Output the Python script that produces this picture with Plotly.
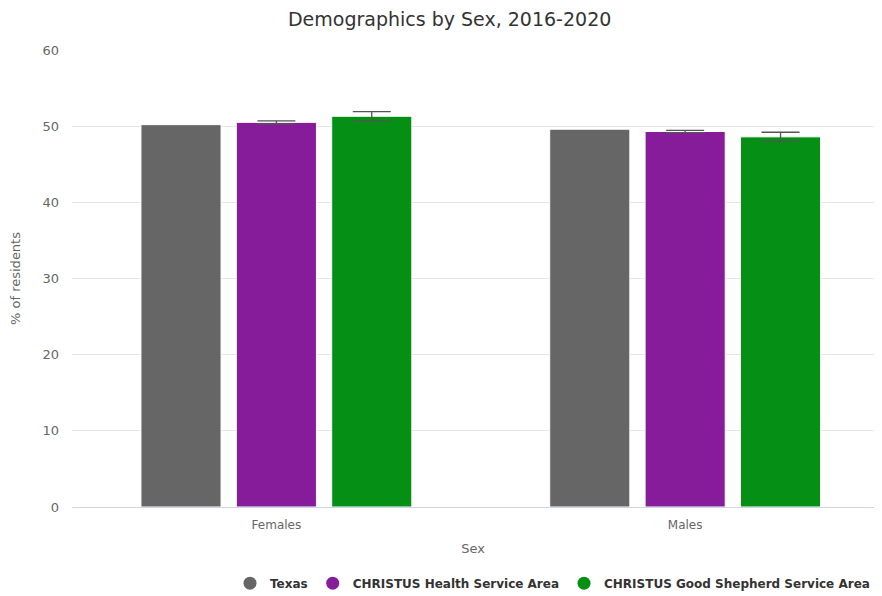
import plotly.graph_objects as go

categories = ["Females", "Males"]
series_names = ["Texas", "CHRISTUS Health Service Area", "CHRISTUS Good Shepherd Service Area"]
texas = [50.2, 49.6]
christus_health = [50.5, 49.3]
christus_health_err = [0.2, 0.15]
good_shepherd = [51.3, 48.6]
good_shepherd_err = [0.6, 0.6]
colors = ["#666666", "#871c9b", "#058f15"]

fig = go.Figure()
vals = [texas, christus_health, good_shepherd]
errs = [None, christus_health_err, good_shepherd_err]
for name, v, e, c in zip(series_names, vals, errs, colors):
    fig.add_trace(go.Bar(
        x=categories, y=v, name=name, marker_color=c, showlegend=False,
        marker_line=dict(color="white", width=1),
        error_y=(dict(type="data", array=e, color="#555555", thickness=1.3, width=19) if e else None),
        hoverinfo="y+name",
    ))
for name, c in zip(series_names, colors):
    fig.add_trace(go.Scatter(
        x=[None], y=[None], mode="markers", name=name,
        marker=dict(color=c, size=13, symbol="circle"), showlegend=True,
    ))

# The page body has an 8px margin, so the figure is sized to fit the visible area.
fig.update_layout(
    width=866, height=588,
    margin=dict(l=64, r=0, t=42, b=89, autoexpand=False),
    paper_bgcolor="white", plot_bgcolor="white",
    font=dict(family="DejaVu Sans, sans-serif", color="#666666", size=12),
    title=dict(text="Demographics by Sex, 2016-2020", x=0.51, xanchor="center",
               yref="container", y=0.98, yanchor="middle",
               font=dict(size=19, color="#333333")),
    barmode="group", bargap=0.30, bargroupgap=0.16,
    xaxis=dict(title=dict(text="Sex", font=dict(size=13, color="#666666"), standoff=12),
               range=[-0.5, 1.462], showgrid=False, showline=True, linecolor="#ccd6eb",
               ticks="", ticklabelstandoff=7, tickfont=dict(size=12, color="#666666"), automargin=False),
    yaxis=dict(title=dict(text="% of residents", font=dict(size=13, color="#666666"), standoff=18),
               range=[0, 60], dtick=10, showgrid=True, gridcolor="#e6e6e6", zeroline=False,
               ticklabelstandoff=12,
               tickfont=dict(size=13, color="#666666"), automargin=False),
    legend=dict(orientation="h", x=0.197, xanchor="left", y=-0.135, yanchor="top",
                font=dict(size=12, color="#333333", family="DejaVu Sans, sans-serif", weight="bold"),
                itemwidth=30, tracegroupgap=0),
)

fig.write_html("out.html")
